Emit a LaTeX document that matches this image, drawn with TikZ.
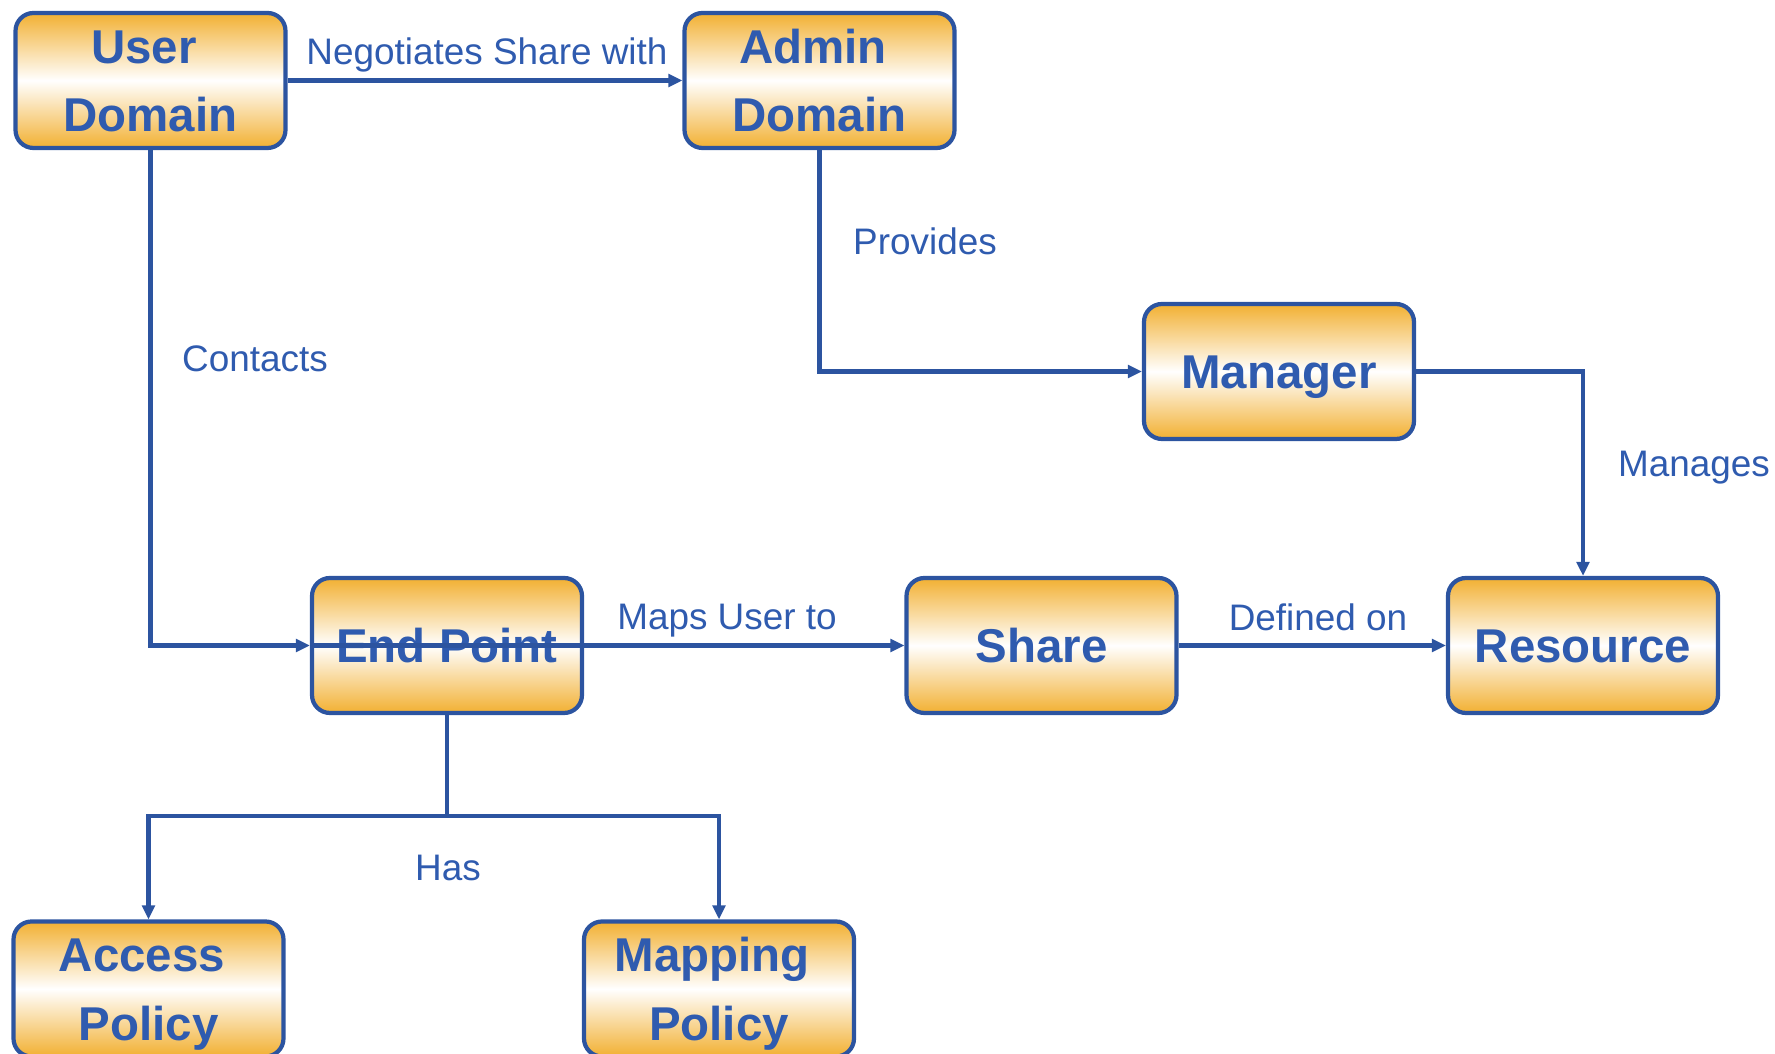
\documentclass[tikz,border=0pt]{standalone}
\usepackage{fontspec}
\setmainfont{Liberation Sans}
\usetikzlibrary{arrows.meta}
\definecolor{boxblue}{RGB}{44,84,160}
\definecolor{txtblue}{RGB}{47,91,175}
\definecolor{boxorange}{RGB}{242,176,50}
\begin{document}
\begin{tikzpicture}
[ar/.style={-{Triangle[length=4pt,width=3.6pt]},line width=1.2pt,draw=boxblue},
 box/.style={draw=boxblue,line width=1.2pt,rounded corners=0.18cm,
  top color=boxorange,bottom color=boxorange,middle color=white,
  minimum width=2.7cm,minimum height=1.35cm,inner sep=0pt,
  text height=9.7pt,text depth=0pt,
  text=txtblue,align=center,font=\fontsize{13.5}{19.6}\selectfont\bfseries},
 two/.style={box,text height=29.3pt,text depth=-0.6pt},
 lab/.style={text=txtblue,font=\fontsize{10.5}{12}\selectfont,inner sep=1pt}]
\useasboundingbox (0cm,0cm) rectangle (17.75cm,10.54cm);
\node [two] at (1.505cm,9.735cm) (ud) {User\hspace*{0.28em}\\Domain};
\node [two] at (8.195cm,9.735cm) (ad) {Admin\hspace*{0.28em}\\Domain};
\node [box] at (12.79cm,6.825cm) (mg) {Manager};
\node [box] at (4.47cm,4.085cm) (ep) {End Point};
\node [box] at (10.415cm,4.085cm) (sh) {Share};
\node [box] at (15.83cm,4.085cm) (rs) {Resource};
\node [two] at (1.485cm,0.65cm) (ap) {Access\hspace*{0.28em}\\Policy};
\node [two] at (7.19cm,0.65cm) (mp) {Mapping\hspace*{0.28em}\\Policy};
\coordinate (hub) at (4.47cm,2.38cm);

\node [lab] at (4.87cm,9.99cm) (neg) {Negotiates Share with};
\node [lab] at (9.25cm,8.13cm) (prov) {Provides};
\node [lab] at (2.55cm,6.95cm) (cont) {Contacts};
\node [lab] at (16.94cm,5.86cm) (man) {Manages};
\node [lab] at (7.27cm,4.33cm) (maps) {Maps User to};
\node [lab] at (13.18cm,4.37cm) (def) {Defined on};
\node [lab] at (4.48cm,1.86cm) (has) {Has};

\draw [ar] (ud) -- (ad);
\draw [ar] (ud) |- (ep);
\draw [ar] (ep.west) -- (sh);
\draw [ar] (ad) |- (mg);
\draw [ar] (mg) -| (rs);
\draw [ar] (sh) -- (rs);
\draw [line width=1.2pt,draw=boxblue] (ep) -- (hub);
\draw [ar] (hub) -| (ap);
\draw [ar] (hub) -| (mp);
\end{tikzpicture}
\end{document}
